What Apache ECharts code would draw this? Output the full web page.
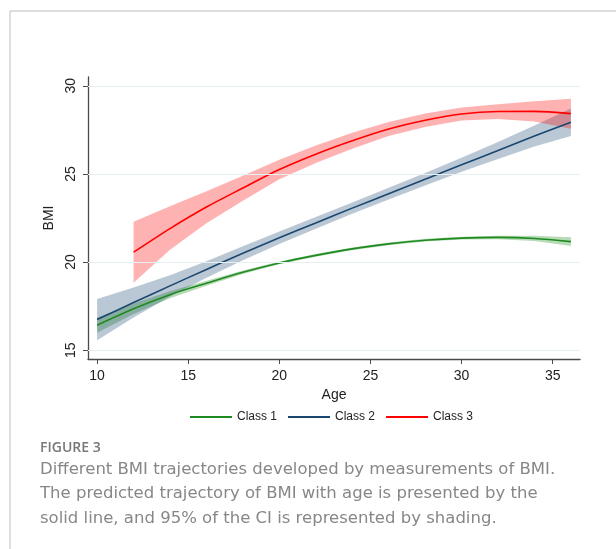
<!DOCTYPE html>
<html>
<head>
<meta charset="utf-8">
<script src="https://cdn.jsdelivr.net/npm/echarts@6/dist/echarts.min.js"></script>
<style>
  html, body { margin: 0; padding: 0; background: #fff; }
  #bmi-trajectory { width: 616px; height: 549px; }
</style>
</head>
<body>
<div id="bmi-trajectory"></div>
<script>
var ages = [10, 12, 14, 16, 18, 20, 22, 24, 26, 28, 30, 32, 34, 36];
var class3Ages = [12, 14, 16, 18, 20, 22, 24, 26, 28, 30, 32, 34, 36];

var class1Mean  = [16.42, 17.35, 18.15, 18.80, 19.42, 19.95, 20.38, 20.75, 21.03, 21.24, 21.36, 21.40, 21.34, 21.16];
var class1Lower = [15.99, 17.05, 17.95, 18.66, 19.32, 19.87, 20.30, 20.67, 20.95, 21.16, 21.28, 21.30, 21.19, 20.91];
var class1Upper = [16.85, 17.65, 18.35, 18.94, 19.52, 20.03, 20.46, 20.83, 21.11, 21.32, 21.44, 21.50, 21.49, 21.41];

var class2Mean  = [16.74, 17.70, 18.65, 19.58, 20.50, 21.38, 22.22, 23.06, 23.88, 24.70, 25.52, 26.33, 27.15, 27.93];
var class2Lower = [15.57, 16.85, 18.05, 19.11, 20.10, 21.03, 21.89, 22.74, 23.55, 24.35, 25.12, 25.85, 26.55, 27.15];
var class2Upper = [17.91, 18.55, 19.25, 20.05, 20.90, 21.73, 22.55, 23.38, 24.21, 25.05, 25.92, 26.81, 27.75, 28.71];

var class3Mean  = [20.56, 21.90, 23.12, 24.20, 25.25, 26.12, 26.88, 27.55, 28.05, 28.40, 28.54, 28.55, 28.42];
var class3Lower = [18.83, 20.70, 22.20, 23.48, 24.70, 25.62, 26.43, 27.15, 27.67, 28.03, 28.12, 27.97, 27.57];
var class3Upper = [22.29, 23.17, 24.02, 24.90, 25.80, 26.62, 27.33, 27.95, 28.43, 28.77, 28.96, 29.13, 29.27];

var xTicks = [10, 15, 20, 25, 30, 35];
var yTicks = [15, 20, 25, 30];
var classNames = ['Class 1', 'Class 2', 'Class 3'];

var captionTitle = 'FIGURE 3';
var captionLines = [
    'Different BMI trajectories developed by measurements of BMI.',
    'The predicted trajectory of BMI with age is presented by the',
    'solid line, and 95% of the CI is represented by shading.'
];

var axisFont = 'Liberation Sans, Arial, sans-serif';

function pairs(xs, ys) {
    var out = [];
    for (var i = 0; i < xs.length; i++) out.push([xs[i], ys[i]]);
    return out;
}

// shaded CI: polygon along upper edge and back along lower edge
function band(name, xs, lo, hi, fill) {
    return {
        name: name,
        type: 'custom',
        silent: true,
        z: 1,
        data: [[xs[0], lo[0]]],
        renderItem: function (params, api) {
            var pts = [];
            for (var i = 0; i < xs.length; i++) pts.push(api.coord([xs[i], hi[i]]));
            for (var j = xs.length - 1; j >= 0; j--) pts.push(api.coord([xs[j], lo[j]]));
            return { type: 'polygon', shape: { points: pts }, style: { fill: fill } };
        }
    };
}

function trend(name, xs, ys, color) {
    return {
        name: name,
        type: 'line',
        data: pairs(xs, ys),
        color: color,
        showSymbol: false,
        smooth: 0.3,
        z: 3,
        lineStyle: { width: 1.6, color: color }
    };
}

var myChart = echarts.init(document.getElementById('bmi-trajectory'));

var gridBand = band('Class 1 CI', ages, class1Lower, class1Upper, 'rgba(30,140,30,0.32)');
gridBand.markLine = {
    silent: true,
    symbol: 'none',
    label: { show: false },
    lineStyle: { color: '#e6eff1', width: 1.2, type: 'solid' },
    data: yTicks.map(function (v) { return { yAxis: v }; })
};

var graphics = [
    { type: 'line', shape: { x1: 10, y1: 11, x2: 616, y2: 11 }, style: { stroke: '#d2d2d2', lineWidth: 1.4 } },
    { type: 'line', shape: { x1: 10, y1: 11, x2: 10, y2: 549 }, style: { stroke: '#d2d2d2', lineWidth: 1.4 } },
    {
        type: 'text', x: 40, y: 448,
        style: { text: captionTitle, fill: '#777', font: '600 14px "Open Sans", sans-serif', verticalAlign: 'middle' }
    }
];
captionLines.forEach(function (line, i) {
    graphics.push({
        type: 'text', x: 40, y: 469.5 + i * 24.5,
        style: { text: line, fill: '#878787', font: '16.5px "DejaVu Sans", sans-serif', verticalAlign: 'middle' }
    });
});

var option = {
    backgroundColor: '#fff',
    animation: false,
    grid: { left: 88, right: 36, top: 77, bottom: 190 },
    legend: {
        data: classNames,
        left: 185,
        top: 406,
        icon: 'rect',
        itemWidth: 42,
        itemHeight: 2,
        itemGap: 11,
        textStyle: { fontFamily: axisFont, fontSize: 12, color: '#222' }
    },
    xAxis: {
        type: 'value',
        min: 9.5,
        max: 36.5,
        name: 'Age',
        nameLocation: 'middle',
        nameGap: 23,
        nameTextStyle: { fontFamily: axisFont, fontSize: 14, color: '#222' },
        axisLine: { onZero: false, lineStyle: { color: '#4a4a4a', width: 1.3 } },
        axisTick: { customValues: xTicks, length: 5, lineStyle: { color: '#4a4a4a' } },
        axisLabel: { customValues: xTicks, margin: 10, fontFamily: axisFont, fontSize: 14, color: '#222' },
        splitLine: { show: false }
    },
    yAxis: {
        type: 'value',
        min: 14.5,
        max: 30.5,
        name: 'BMI',
        nameLocation: 'middle',
        nameGap: 24,
        nameTextStyle: { fontFamily: axisFont, fontSize: 14, color: '#222' },
        axisLine: { show: true, onZero: false, lineStyle: { color: '#4a4a4a', width: 1.3 } },
        axisTick: { show: true, customValues: yTicks, length: 5, lineStyle: { color: '#4a4a4a' } },
        axisLabel: { customValues: yTicks, rotate: 90, margin: 10, fontFamily: axisFont, fontSize: 14, color: '#222' },
        splitLine: { show: false }
    },
    graphic: graphics,
    series: [
        gridBand,
        band('Class 2 CI', ages, class2Lower, class2Upper, 'rgba(26,71,111,0.3)'),
        band('Class 3 CI', class3Ages, class3Lower, class3Upper, 'rgba(255,0,0,0.3)'),
        trend('Class 1', ages, class1Mean, '#1f8a1f'),
        trend('Class 2', ages, class2Mean, '#1a476f'),
        trend('Class 3', class3Ages, class3Mean, '#ff0000')
    ]
};
myChart.setOption(option);
</script>
</body>
</html>
